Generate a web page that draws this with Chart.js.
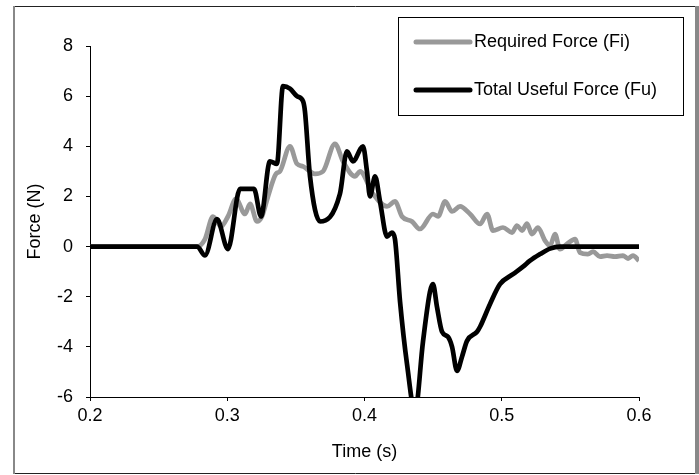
<!DOCTYPE html>
<html><head><meta charset="utf-8">
<script src="https://cdn.jsdelivr.net/npm/chart.js@4/dist/chart.umd.min.js"></script>
<style>html,body{margin:0;padding:0;background:#fff}#wrap{width:699px;height:475px;position:relative}</style>
</head><body><div id="wrap"><canvas id="c" width="699" height="475"></canvas></div>
<script>
const seriesNames = ['Required Force (Fi)', 'Total Useful Force (Fu)'];
const fiTime = [0.2,0.278,0.2838,0.2896,0.2954,0.3005,0.3064,0.3129,0.3166,0.3217,0.3253,0.3297,0.3355,0.3384,0.3457,0.3508,0.3552,0.3639,0.3698,0.3785,0.3843,0.3931,0.3967,0.4062,0.4164,0.4222,0.4273,0.4346,0.4404,0.4499,0.4536,0.4587,0.4638,0.4696,0.4769,0.4842,0.4893,0.4936,0.5009,0.5075,0.5111,0.5148,0.5184,0.522,0.5264,0.5315,0.5352,0.5388,0.5424,0.5475,0.5534,0.557,0.5628,0.5665,0.5716,0.5767,0.5825,0.5883,0.592,0.5956,0.6];
const fiForce = [0,0,0.3,1.2,0.8,1.2,1.9,1.3,1.7,1.0,1.2,2.0,2.9,3.0,4.0,3.3,3.2,2.9,3.0,4.1,3.4,2.8,3.0,2.1,1.6,1.8,1.2,1.0,0.7,1.3,1.2,1.8,1.4,1.6,1.3,0.9,1.3,0.64,0.76,0.56,0.84,0.64,0.92,0.5,0.76,0.24,0.04,0.5,-0.1,0.1,0.3,-0.24,-0.3,-0.2,-0.4,-0.36,-0.4,-0.36,-0.48,-0.36,-0.56];
const fuTime = [0.2,0.278,0.2838,0.2925,0.3005,0.3093,0.3195,0.3246,0.3311,0.3362,0.3406,0.3457,0.3508,0.3552,0.3566,0.3603,0.3676,0.3821,0.3872,0.3916,0.3989,0.4018,0.404,0.4077,0.4113,0.4164,0.42,0.4222,0.4259,0.431,0.4368,0.4426,0.4477,0.4499,0.4528,0.4565,0.4608,0.4638,0.4674,0.471,0.4747,0.482,0.4842,0.4914,0.4987,0.5082,0.5155,0.5206,0.5279,0.5352,0.5424,0.6];
const fuForce = [0,0,-0.35,1.1,-0.1,2.3,2.3,1.2,3.4,3.3,6.4,6.3,6.0,5.8,5.4,2.8,1.0,2.1,3.8,3.4,4.0,3.0,2.0,2.8,1.8,0.4,0.56,0.3,-2.2,-4.7,-6.6,-3.8,-1.8,-1.5,-2.4,-3.4,-3.6,-4.0,-4.96,-4.4,-3.76,-3.4,-3.2,-2.3,-1.5,-1.1,-0.8,-0.56,-0.3,-0.08,0,0];
const xTicks = [0.2,0.3,0.4,0.5,0.6];
const yTicks = [-6,-4,-2,0,2,4,6,8];
const xTitle = 'Time (s)';
const yTitle = 'Force (N)';
const colors = ['#999999', '#000000'];

const FONT = "'Liberation Sans', Arial, sans-serif";
Chart.defaults.font.family = FONT;
Chart.defaults.font.size = 18;
Chart.defaults.color = '#000';

const toPts = (xs, ys) => xs.map((x, i) => ({x: x, y: ys[i]}));

const frame = {
  id: 'frame',
  beforeDraw(chart) {
    const c = chart.ctx;
    c.save();
    c.fillStyle = '#fff';
    c.fillRect(0, 0, chart.width, chart.height);
    c.strokeStyle = '#222'; c.lineWidth = 1;
    c.beginPath(); c.moveTo(14, 6.5); c.lineTo(697, 6.5); c.moveTo(14, 473.5); c.lineTo(697, 473.5); c.stroke();
    c.strokeStyle = '#888'; c.lineWidth = 2;
    c.beginPath(); c.moveTo(14, 6); c.lineTo(14, 474); c.stroke();
    c.lineWidth = 4;
    c.beginPath(); c.moveTo(697, 6); c.lineTo(697, 474); c.stroke();
    c.restore();
  },
  afterDraw(chart) {
    const c = chart.ctx;
    c.save();
    c.fillStyle = '#fff';
    c.fillRect(398, 17, 285, 98);
    c.strokeStyle = '#000'; c.lineWidth = 1;
    c.strokeRect(398.5, 17.5, 285, 98);
    const rows = [42, 90];
    chart.data.datasets.forEach((ds, i) => {
      const y = rows[i];
      c.strokeStyle = ds.borderColor; c.lineWidth = 5; c.lineCap = 'round';
      c.beginPath(); c.moveTo(416, y); c.lineTo(470, y); c.stroke();
      c.fillStyle = '#000'; c.font = '18px ' + FONT;
      c.textBaseline = 'middle'; c.textAlign = 'left';
      c.fillText(ds.label, 474, y);
    });
    c.restore();
  }
};

new Chart(document.getElementById('c'), {
  type: 'line',
  data: {
    datasets: [
      {label: seriesNames[0], data: toPts(fiTime, fiForce), borderColor: colors[0], borderWidth: 4.7, pointRadius: 0, cubicInterpolationMode: 'monotone', order: 2, clip: 0},
      {label: seriesNames[1], data: toPts(fuTime, fuForce), borderColor: colors[1], borderWidth: 4.7, pointRadius: 0, cubicInterpolationMode: 'monotone', order: 1, clip: 0}
    ]
  },
  options: {
    responsive: false,
    animation: false,
    events: [],
    layout: {padding: {left: 0, top: 46, right: 60, bottom: 0}},
    plugins: {legend: {display: false}, tooltip: {enabled: false}},
    scales: {
      x: {
        type: 'linear', min: 0.2, max: 0.6,
        afterBuildTicks: s => { s.ticks = xTicks.map(v => ({value: v})); },
        afterFit: s => { s.height = 78; },
        ticks: {padding: 4, callback: v => v.toFixed(1), font: {size: 18}},
        grid: {drawOnChartArea: false, drawTicks: true, tickLength: 4, color: '#000', lineWidth: 1},
        border: {display: true, color: '#000', width: 1},
        title: {display: true, text: xTitle, font: {size: 18}, padding: {top: 0, bottom: 12}}
      },
      y: {
        type: 'linear', min: -6, max: 8,
        afterBuildTicks: s => { s.ticks = yTicks.map(v => ({value: v})); },
        afterFit: s => { s.width = 90; },
        ticks: {padding: 13, font: {size: 18}},
        grid: {drawOnChartArea: false, drawTicks: true, tickLength: 4, color: '#000', lineWidth: 1},
        border: {display: true, color: '#000', width: 1},
        title: {display: true, text: yTitle, font: {size: 18}, padding: {top: 24, bottom: 0}}
      }
    }
  },
  plugins: [frame]
});
</script></body></html>
